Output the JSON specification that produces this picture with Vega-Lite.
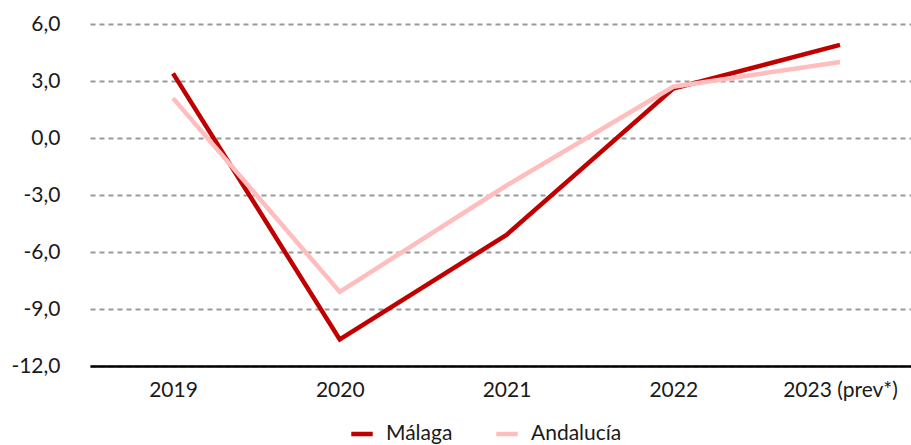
{
  "$schema": "https://vega.github.io/schema/vega-lite/v6.json",
  "autosize": {"type": "none"},
  "padding": {"left": 90, "top": 24, "right": 0, "bottom": 79},
  "width": 821,
  "height": 342,
  "background": "white",
  "config": {
    "view": {"stroke": null},
    "font": "Lato",
    "axis": {"labelFont": "Lato", "labelColor": "#1a1a1a"}
  },
  "data": {
    "values": [
      {"year": "2019", "serie": "Málaga", "valor": 3.4},
      {"year": "2020", "serie": "Málaga", "valor": -10.6},
      {"year": "2021", "serie": "Málaga", "valor": -5.1},
      {"year": "2022", "serie": "Málaga", "valor": 2.6},
      {"year": "2023 (prev*)", "serie": "Málaga", "valor": 4.9},
      {"year": "2019", "serie": "Andalucía", "valor": 2.1},
      {"year": "2020", "serie": "Andalucía", "valor": -8.1},
      {"year": "2021", "serie": "Andalucía", "valor": -2.5},
      {"year": "2022", "serie": "Andalucía", "valor": 2.7},
      {"year": "2023 (prev*)", "serie": "Andalucía", "valor": 4.0}
    ]
  },
  "mark": {"type": "line", "strokeWidth": 4.5, "strokeCap": "butt", "strokeJoin": "miter"},
  "encoding": {
    "x": {
      "field": "year",
      "type": "ordinal",
      "sort": ["2019", "2020", "2021", "2022", "2023 (prev*)"],
      "scale": {"type": "point", "padding": 0.4618, "align": 0.539},
      "axis": {
        "title": null,
        "labelAngle": 0,
        "labelFontSize": 21,
        "labelPadding": 13,
        "ticks": false,
        "domainColor": "#000000",
        "domainWidth": 2.5,
        "grid": false
      }
    },
    "y": {
      "field": "valor",
      "type": "quantitative",
      "scale": {"domain": [-12, 6], "nice": false, "zero": false},
      "axis": {
        "title": null,
        "values": [-12, -9, -6, -3, 0, 3, 6],
        "labelExpr": "replace(replace(format(datum.value, '.1f'), '.', ','), '\u2212', '-')",
        "labelFontSize": 21,
        "labelPadding": 30,
        "ticks": false,
        "domain": false,
        "grid": true,
        "gridColor": "#999999",
        "gridWidth": 2,
        "gridDash": [5, 4]
      }
    },
    "color": {
      "field": "serie",
      "type": "nominal",
      "sort": ["Málaga", "Andalucía"],
      "scale": {"domain": ["Málaga", "Andalucía"], "range": ["#C00000", "#FFBDBD"]},
      "legend": {
        "title": null,
        "orient": "none",
        "direction": "horizontal",
        "legendX": 259,
        "legendY": 397,
        "symbolType": "stroke",
        "symbolStrokeWidth": 4.5,
        "symbolSize": 460,
        "labelFontSize": 21,
        "labelColor": "#1a1a1a",
        "labelOffset": 11,
        "columnPadding": 34
      }
    }
  }
}
